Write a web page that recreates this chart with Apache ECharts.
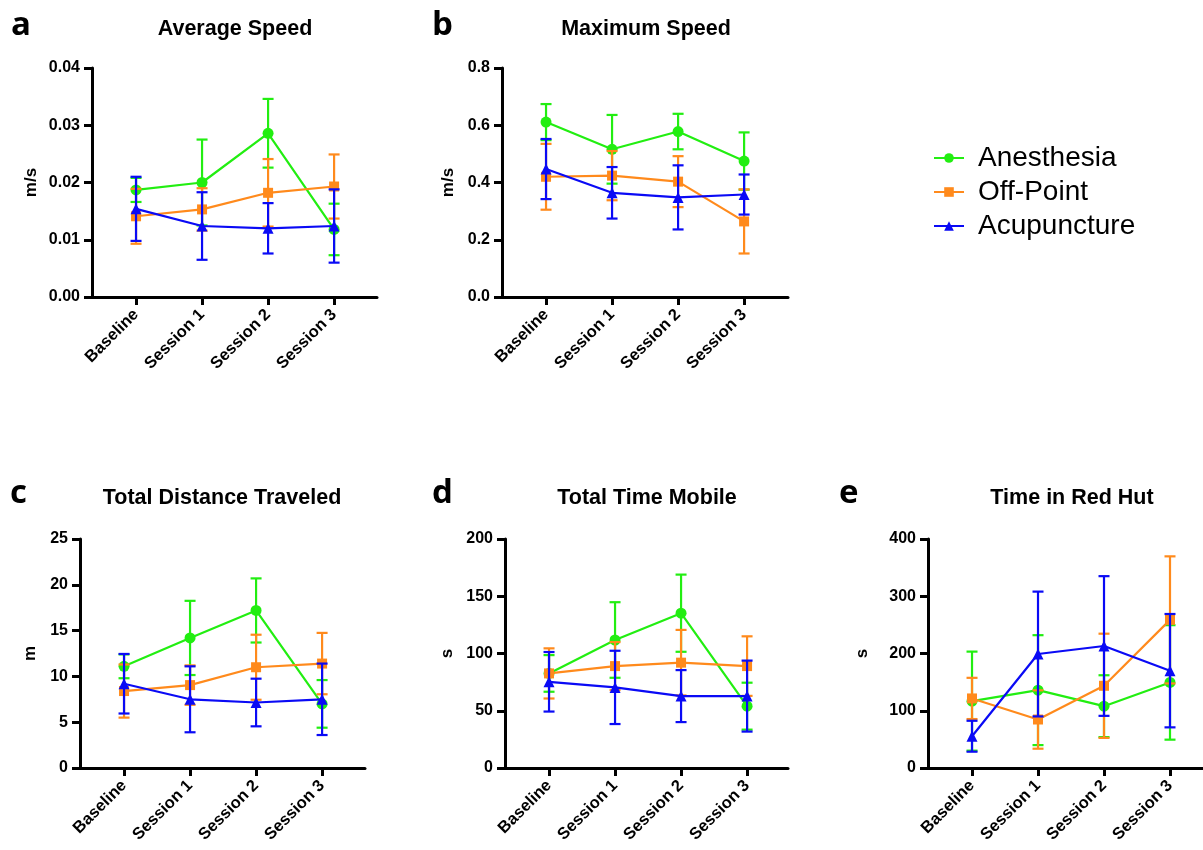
<!DOCTYPE html>
<html>
<head>
<meta charset="utf-8">
<script src="https://cdn.jsdelivr.net/npm/echarts@6/dist/echarts.min.js"></script>
<style>html,body{margin:0;padding:0;background:#fff}#c{width:1203px;height:850px}</style>
</head>
<body>
<div id="c"></div>
<script>
const categories = ['Baseline', 'Session 1', 'Session 2', 'Session 3'];
const groupNames = ['Anesthesia', 'Off-Point', 'Acupuncture'];

// a: Average Speed (m/s)
const avgSpeedAnes = [0.0187, 0.0200, 0.0286, 0.0118];
const avgSpeedAnesErr = [0.0021, 0.0075, 0.0060, 0.0045];
const avgSpeedOff = [0.0141, 0.0153, 0.0182, 0.0193];
const avgSpeedOffErr = [0.0048, 0.0037, 0.0059, 0.0056];
const avgSpeedAcu = [0.0154, 0.0124, 0.0120, 0.0124];
const avgSpeedAcuErr = [0.0056, 0.0059, 0.0044, 0.0064];

// b: Maximum Speed (m/s)
const maxSpeedAnes = [0.611, 0.516, 0.578, 0.475];
const maxSpeedAnesErr = [0.063, 0.120, 0.062, 0.100];
const maxSpeedOff = [0.420, 0.424, 0.403, 0.264];
const maxSpeedOffErr = [0.115, 0.086, 0.089, 0.112];
const maxSpeedAcu = [0.447, 0.364, 0.348, 0.358];
const maxSpeedAcuErr = [0.105, 0.090, 0.112, 0.070];

// c: Total Distance Traveled (m)
const distAnes = [11.1, 14.2, 17.2, 7.0];
const distAnesErr = [1.3, 4.05, 3.5, 2.6];
const distOff = [8.4, 9.05, 11.0, 11.4];
const distOffErr = [2.9, 2.15, 3.55, 3.35];
const distAcu = [9.2, 7.5, 7.15, 7.5];
const distAcuErr = [3.25, 3.6, 2.6, 3.9];

// d: Total Time Mobile (s)
const mobileAnes = [82.6, 111.8, 135.2, 54.0];
const mobileAnesErr = [16, 33, 33.7, 20.5];
const mobileOff = [82.6, 89.0, 92.0, 89.0];
const mobileOffErr = [21.9, 21, 28.6, 26];
const mobileAcu = [75.3, 70.4, 62.8, 62.8];
const mobileAcuErr = [26, 32, 22.7, 31];

// e: Time in Red Hut (s)
const hutAnes = [116.8, 136, 108, 149.5];
const hutAnesErr = [86.5, 96, 54, 100];
const hutOff = [121.5, 84.7, 143.6, 258.7];
const hutOffErr = [36, 51, 91, 111];
const hutAcu = [55.5, 199.1, 213.1, 170];
const hutAcuErr = [27, 109, 122, 99];

const yTicksA = [0, 0.01, 0.02, 0.03, 0.04];
const yTicksB = [0, 0.2, 0.4, 0.6, 0.8];
const yTicksC = [0, 5, 10, 15, 20, 25];
const yTicksD = [0, 50, 100, 150, 200];
const yTicksE = [0, 100, 200, 300, 400];

const colors = ['#22ee11', '#ff8a1c', '#0a0af5'];
const symbols = ['circle', 'rect', 'triangle'];
const symbolSizes = [11, 10, 11];
const FONT = '"Liberation Sans", Arial, Helvetica, sans-serif';

const panels = [
  { letter: 'a', title: 'Average Speed', unit: 'm/s', ticks: yTicksA, dec: 2,
    means: [avgSpeedAnes, avgSpeedOff, avgSpeedAcu], errs: [avgSpeedAnesErr, avgSpeedOffErr, avgSpeedAcuErr],
    grid: { left: 92, top: 68, width: 285, height: 229 }, xmax: 3.65, nameGap: 52, letterX: 10, titleX: 235, row: 0 },
  { letter: 'b', title: 'Maximum Speed', unit: 'm/s', ticks: yTicksB, dec: 1,
    means: [maxSpeedAnes, maxSpeedOff, maxSpeedAcu], errs: [maxSpeedAnesErr, maxSpeedOffErr, maxSpeedAcuErr],
    grid: { left: 502, top: 68, width: 286, height: 229 }, xmax: 3.665, nameGap: 45, letterX: 431, titleX: 646, row: 0 },
  { letter: 'c', title: 'Total Distance Traveled', unit: 'm', ticks: yTicksC, dec: 0,
    means: [distAnes, distOff, distAcu], errs: [distAnesErr, distOffErr, distAcuErr],
    grid: { left: 80, top: 539, width: 285, height: 229 }, xmax: 3.65, nameGap: 41, letterX: 9, titleX: 222, row: 1 },
  { letter: 'd', title: 'Total Time Mobile', unit: 's', ticks: yTicksD, dec: 0,
    means: [mobileAnes, mobileOff, mobileAcu], errs: [mobileAnesErr, mobileOffErr, mobileAcuErr],
    grid: { left: 505, top: 539, width: 283, height: 229 }, xmax: 3.62, nameGap: 49, letterX: 431, titleX: 647, row: 1 },
  { letter: 'e', title: 'Time in Red Hut', unit: 's', ticks: yTicksE, dec: 0,
    means: [hutAnes, hutOff, hutAcu], errs: [hutAnesErr, hutOffErr, hutAcuErr],
    grid: { left: 928, top: 539, width: 275, height: 229 }, xmax: 3.5, nameGap: 57, letterX: 838, titleX: 1072, row: 1 }
];

const grids = [], xAxes = [], yAxes = [], series = [], titles = [];

panels.forEach((p, pi) => {
  grids.push(Object.assign({ containLabel: false }, p.grid));
  const ticks = p.ticks;
  const ymax = ticks[ticks.length - 1];
  const step = ticks[1] - ticks[0];
  xAxes.push({
    type: 'value', gridIndex: pi, min: -0.667, max: p.xmax,
    splitLine: { show: false },
    axisLine: { show: true, onZero: false, lineStyle: { color: '#000', width: 3 } },
    axisTick: { show: true, customValues: [0, 1, 2, 3], length: 8, lineStyle: { color: '#000', width: 3 } },
    axisLabel: {
      customValues: [0, 1, 2, 3], rotate: 45, margin: 15,
      formatter: v => categories[Math.round(v)] || '',
      color: '#000', fontFamily: FONT, fontWeight: 'bold', fontSize: 16.5
    }
  });
  yAxes.push({
    type: 'value', gridIndex: pi, min: 0, max: ymax, interval: step,
    name: p.unit, nameLocation: 'middle', nameGap: p.nameGap, nameRotate: 90,
    nameTextStyle: { color: '#000', fontFamily: FONT, fontWeight: 'bold', fontSize: 17 },
    splitLine: { show: false },
    axisLine: { show: true, onZero: false, lineStyle: { color: '#000', width: 3 } },
    axisTick: { show: true, length: 8, lineStyle: { color: '#000', width: 3 } },
    axisLabel: {
      margin: 12, color: '#000', fontFamily: FONT, fontWeight: 'bold', fontSize: 16,
      formatter: v => Number(v).toFixed(p.dec)
    }
  });
  titles.push({
    text: p.title, left: p.titleX, top: p.row === 0 ? 18 : 487, textAlign: 'center', padding: 0,
    textStyle: { color: '#000', fontFamily: FONT, fontWeight: 'bold', fontSize: 21.5 }
  });
  titles.push({
    text: p.letter, left: p.letterX + 1, top: p.row === 0 ? 9 : 477, padding: 0,
    textStyle: { color: '#000', fontFamily: '"Open Sans", "Liberation Sans", Arial, sans-serif', fontWeight: 'bold', fontSize: 33 }
  });

  for (let g = 0; g < 3; g++) {
    const m = p.means[g], e = p.errs[g];
    const col = colors[g];
    series.push({
      type: 'custom', name: 'err_' + p.letter + g, xAxisIndex: pi, yAxisIndex: pi,
      clip: false, silent: true, z: 2 + g * 2,
      data: m.map((v, i) => [i, v, e[i]]),
      renderItem: (params, api) => {
        const x = api.value(0), y = api.value(1), s = api.value(2);
        const top = api.coord([x, y + s]);
        const bot = api.coord([x, y - s]);
        const hw = 5.5;
        const st = { stroke: col, lineWidth: 2.2 };
        return {
          type: 'group', children: [
            { type: 'line', shape: { x1: top[0], y1: top[1], x2: bot[0], y2: bot[1] }, style: st },
            { type: 'line', shape: { x1: top[0] - hw, y1: top[1], x2: top[0] + hw, y2: top[1] }, style: st },
            { type: 'line', shape: { x1: bot[0] - hw, y1: bot[1], x2: bot[0] + hw, y2: bot[1] }, style: st }
          ]
        };
      }
    });
    series.push({
      type: 'line', name: groupNames[g], xAxisIndex: pi, yAxisIndex: pi,
      z: 3 + g * 2,
      data: m.map((v, i) => [i, v]),
      symbol: symbols[g], symbolSize: symbolSizes[g], showSymbol: true,
      lineStyle: { color: col, width: 2.2 },
      itemStyle: { color: col },
      emphasis: { disabled: true },
      animation: false
    });
  }
});

const chart = echarts.init(document.getElementById('c'), null, { renderer: 'canvas' });
chart.setOption({
  animation: false,
  backgroundColor: '#fff',
  color: colors,
  title: titles,
  grid: grids,
  xAxis: xAxes,
  yAxis: yAxes,
  legend: {
    data: groupNames, orient: 'vertical', left: 933, top: 144, padding: 0,
    itemWidth: 30, itemHeight: 12, itemGap: 6,
    textStyle: { color: '#000', fontFamily: FONT, fontSize: 28, lineHeight: 28, padding: [0, 0, 0, 9] }
  },
  series: series
});
</script>
</body>
</html>
